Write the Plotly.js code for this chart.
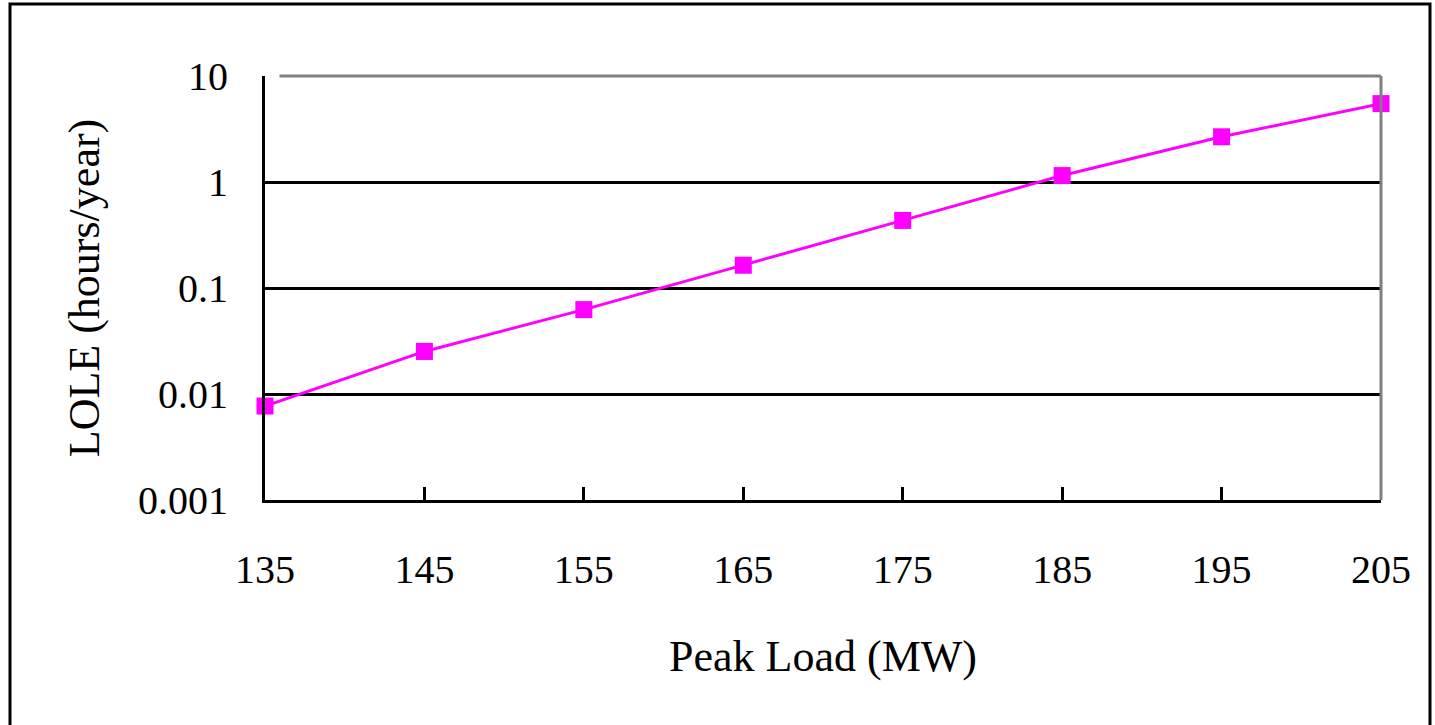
<!DOCTYPE html>
<html>
<head>
<meta charset="utf-8">
<script src="https://cdn.plot.ly/plotly-3.0.1.min.js"></script>
<style>
  html, body { margin: 0; padding: 0; background: #fff; }
  #chart { width: 1435px; height: 725px; }
</style>
</head>
<body>
<div id="chart"></div>
<script>
// Data
const peakLoad = [135, 145, 155, 165, 175, 185, 195, 205];
const lole = [0.0077, 0.0252, 0.0625, 0.164, 0.434, 1.15, 2.67, 5.49];
const xTicks = [135, 145, 155, 165, 175, 185, 195, 205];
const yTickVals = [0.001, 0.01, 0.1, 1, 10];
const yTickText = ['0.001', '0.01', '0.1', '1', '10'];

const FONT = 'Liberation Serif, Times New Roman, serif';

const trace = {
  x: peakLoad,
  y: lole,
  type: 'scatter',
  mode: 'lines+markers',
  line: { color: '#FF00FF', width: 3 },
  marker: { symbol: 'square', size: 17, color: '#FF00FF' },
  cliponaxis: false,
  showlegend: false
};

const layout = {
  width: 1435,
  height: 725,
  margin: { l: 265, r: 54, t: 76, b: 225 },
  paper_bgcolor: '#ffffff',
  plot_bgcolor: '#ffffff',
  font: { family: FONT, color: '#000000', size: 40 },
  xaxis: {
    range: [135, 205],
    tickmode: 'array',
    tickvals: xTicks,
    ticktext: xTicks.map(String),
    ticks: 'inside',
    ticklen: 13,
    tickwidth: 3,
    tickcolor: '#000',
    ticklabelstandoff: 32,
    showgrid: false,
    zeroline: false,
    showline: true,
    linecolor: '#000',
    linewidth: 3,
    tickfont: { family: FONT, size: 40, color: '#000' },
    title: { text: 'Peak Load (MW)', font: { family: FONT, size: 44, color: '#000' }, standoff: 50 }
  },
  yaxis: {
    type: 'log',
    range: [-3, 1],
    tickmode: 'array',
    tickvals: yTickVals,
    ticktext: yTickText,
    ticks: 'inside',
    ticklen: 13,
    tickwidth: 3,
    tickcolor: '#000',
    ticklabelstandoff: 26,
    showgrid: true,
    gridcolor: '#000',
    gridwidth: 3,
    zeroline: false,
    showline: true,
    linecolor: '#000',
    linewidth: 3,
    tickfont: { family: FONT, size: 40, color: '#000' },
    title: { text: 'LOLE (hours/year)', font: { family: FONT, size: 44, color: '#000' }, standoff: 25 }
  },
  shapes: [
    // gray top and right frame of the plot area
    { type: 'line', xref: 'paper', yref: 'paper', x0: 0.013, x1: 1, y0: 1, y1: 1,
      line: { color: '#808080', width: 3 } },
    { type: 'line', xref: 'paper', yref: 'paper', x0: 1, x1: 1, y0: 0, y1: 1,
      line: { color: '#808080', width: 3 } },
    // outer chart border
    { type: 'rect', xref: 'paper', yref: 'paper', x0: -0.2285, x1: 1.0439, y0: -0.56, y1: 1.1698,
      line: { color: '#000', width: 3 }, fillcolor: 'rgba(0,0,0,0)', layer: 'below' }
  ]
};

Plotly.newPlot('chart', [trace], layout, { displayModeBar: false, staticPlot: true });
</script>
</body>
</html>
